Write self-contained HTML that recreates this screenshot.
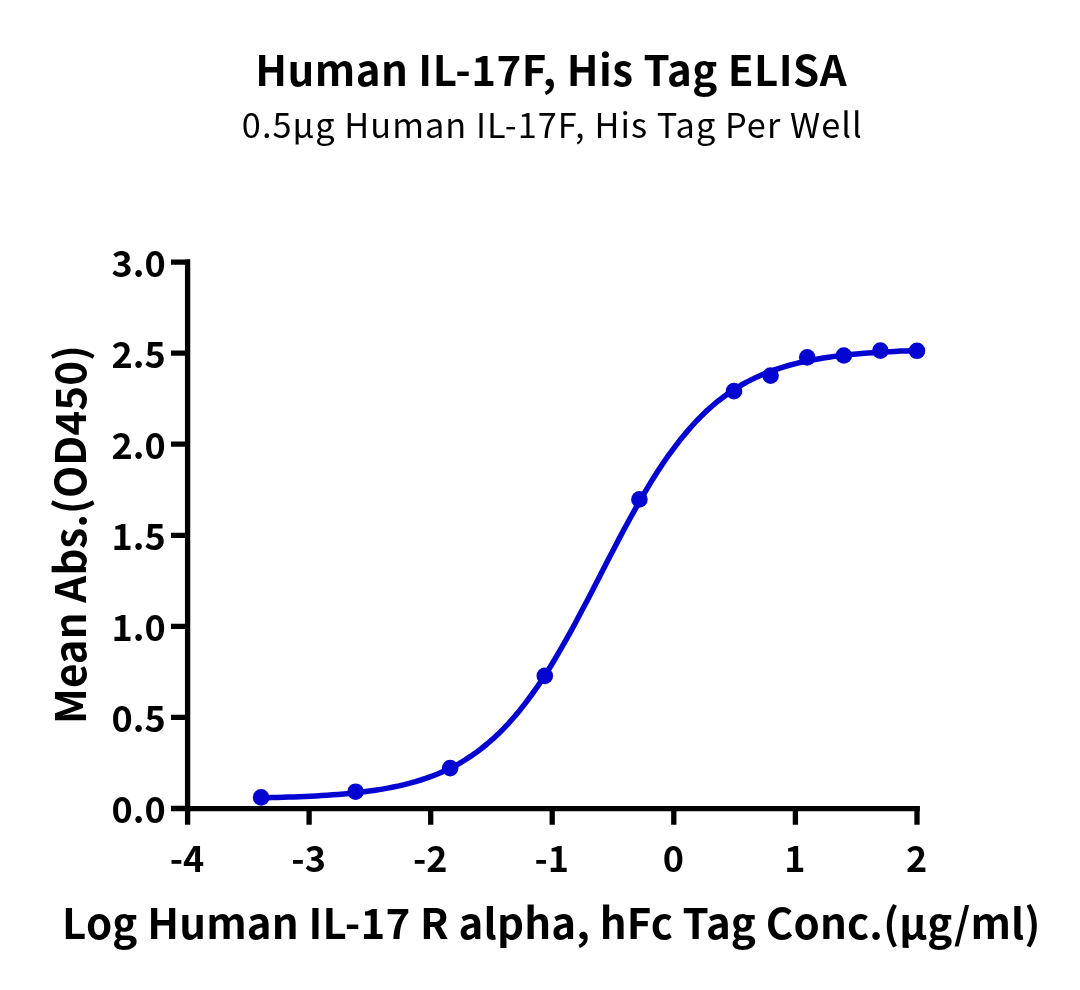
<!DOCTYPE html>
<html><head><meta charset="utf-8"><style>
html,body{margin:0;padding:0;background:#fff;width:1080px;height:990px;overflow:hidden}
svg{display:block;will-change:transform}
text{font-family:"Noto Sans CJK SC", "Liberation Sans", sans-serif;fill:#000}
.b{font-weight:700}
.r{font-weight:400}
.tl{font-size:36px;font-weight:700}
</style></head><body>
<svg width="1080" height="990" viewBox="0 0 1080 990">
<path d="M187.6,259.5 V824.7 M185,808.6 H919.8" stroke="#000" stroke-width="5.3" fill="none"/>
<path d="M171,808.5 H190 M171,717.4 H190 M171,626.4 H190 M171,535.3 H190 M171,444.2 H190 M171,353.2 H190 M171,262.1 H190 M309.1,806 V824.7 M430.7,806 V824.7 M552.2,806 V824.7 M673.8,806 V824.7 M795.4,806 V824.7 M917.0,806 V824.7" stroke="#000" stroke-width="5.3" fill="none"/>
<text x="165.7" y="823.1" text-anchor="end" class="tl">0.0</text>
<text x="165.7" y="732.0" text-anchor="end" class="tl">0.5</text>
<text x="165.7" y="641.0" text-anchor="end" class="tl">1.0</text>
<text x="165.7" y="549.9" text-anchor="end" class="tl">1.5</text>
<text x="165.7" y="458.8" text-anchor="end" class="tl">2.0</text>
<text x="165.7" y="367.8" text-anchor="end" class="tl">2.5</text>
<text x="165.7" y="276.7" text-anchor="end" class="tl">3.0</text>
<text x="187.0" y="871.5" text-anchor="middle" class="tl">-4</text>
<text x="308.6" y="871.5" text-anchor="middle" class="tl">-3</text>
<text x="430.2" y="871.5" text-anchor="middle" class="tl">-2</text>
<text x="551.7" y="871.5" text-anchor="middle" class="tl">-1</text>
<text x="673.3" y="871.5" text-anchor="middle" class="tl">0</text>
<text x="794.9" y="871.5" text-anchor="middle" class="tl">1</text>
<text x="916.5" y="871.5" text-anchor="middle" class="tl">2</text>
<polyline points="261.1,797.9 266.6,797.7 272.1,797.6 277.6,797.5 283.1,797.3 288.6,797.1 294.1,796.9 299.6,796.7 305.2,796.4 310.7,796.2 316.2,795.9 321.7,795.6 327.2,795.2 332.7,794.8 338.2,794.4 343.7,793.9 349.2,793.4 354.8,792.8 360.3,792.2 365.8,791.5 371.3,790.8 376.8,790.0 382.3,789.1 387.8,788.1 393.3,787.0 398.9,785.9 404.4,784.6 409.9,783.2 415.4,781.7 420.9,780.0 426.4,778.2 431.9,776.2 437.4,774.0 443.0,771.6 448.5,769.1 454.0,766.3 459.5,763.3 465.0,760.0 470.5,756.4 476.0,752.6 481.5,748.5 487.0,744.0 492.6,739.2 498.1,734.1 503.6,728.6 509.1,722.8 514.6,716.5 520.1,709.9 525.6,702.9 531.1,695.5 536.7,687.7 542.2,679.5 547.7,670.9 553.2,662.0 558.7,652.7 564.2,643.1 569.7,633.3 575.2,623.2 580.7,612.8 586.3,602.3 591.8,591.7 597.3,581.0 602.8,570.3 608.3,559.6 613.8,548.9 619.3,538.4 624.8,528.0 630.4,517.8 635.9,507.8 641.4,498.2 646.9,488.8 652.4,479.7 657.9,471.1 663.4,462.7 668.9,454.8 674.5,447.3 680.0,440.1 685.5,433.4 691.0,427.0 696.5,421.0 702.0,415.4 707.5,410.1 713.0,405.3 718.5,400.7 724.1,396.5 729.6,392.5 735.1,388.9 740.6,385.5 746.1,382.4 751.6,379.6 757.1,376.9 762.6,374.5 768.2,372.3 773.7,370.2 779.2,368.3 784.7,366.6 790.2,365.0 795.7,363.6 801.2,362.3 806.7,361.1 812.3,360.0 817.8,359.0 823.3,358.0 828.8,357.2 834.3,356.4 839.8,355.7 845.3,355.1 850.8,354.5 856.3,354.0 861.9,353.5 867.4,353.1 872.9,352.7 878.4,352.3 883.9,352.0 889.4,351.7 894.9,351.4 900.4,351.1 906.0,350.9 911.5,350.7 917.0,350.5" stroke="#0505D2" stroke-width="5.5" fill="none" stroke-linejoin="round"/>
<circle cx="261.1" cy="797.4" r="8.3" fill="#0505D2"/>
<circle cx="355.6" cy="791.7" r="8.3" fill="#0505D2"/>
<circle cx="450.2" cy="768.1" r="8.3" fill="#0505D2"/>
<circle cx="544.8" cy="675.9" r="8.3" fill="#0505D2"/>
<circle cx="639.4" cy="499.4" r="8.3" fill="#0505D2"/>
<circle cx="734.0" cy="391.1" r="8.3" fill="#0505D2"/>
<circle cx="770.6" cy="375.6" r="8.3" fill="#0505D2"/>
<circle cx="807.2" cy="357.4" r="8.3" fill="#0505D2"/>
<circle cx="843.8" cy="355.5" r="8.3" fill="#0505D2"/>
<circle cx="880.4" cy="350.6" r="8.3" fill="#0505D2"/>
<circle cx="917.0" cy="350.8" r="8.3" fill="#0505D2"/>
<text x="255.3" y="85.9" class="b" style="font-size:42px;letter-spacing:0.46px">Human IL-17F, His Tag ELISA</text>
<text x="241.8" y="138.1" class="r" style="font-size:34.3px;letter-spacing:1.05px">0.5µg Human IL-17F, His Tag Per Well</text>
<text x="62.1" y="939.3" class="b" style="font-size:42px;letter-spacing:0.16px">Log Human IL-17 R alpha, hFc Tag Conc.(µg/ml)</text>
<text x="0" y="0" transform="translate(86.1,724) rotate(-90)" class="b" style="font-size:42px;letter-spacing:0.09px">Mean Abs.(OD450)</text>
</svg>
</body></html>
